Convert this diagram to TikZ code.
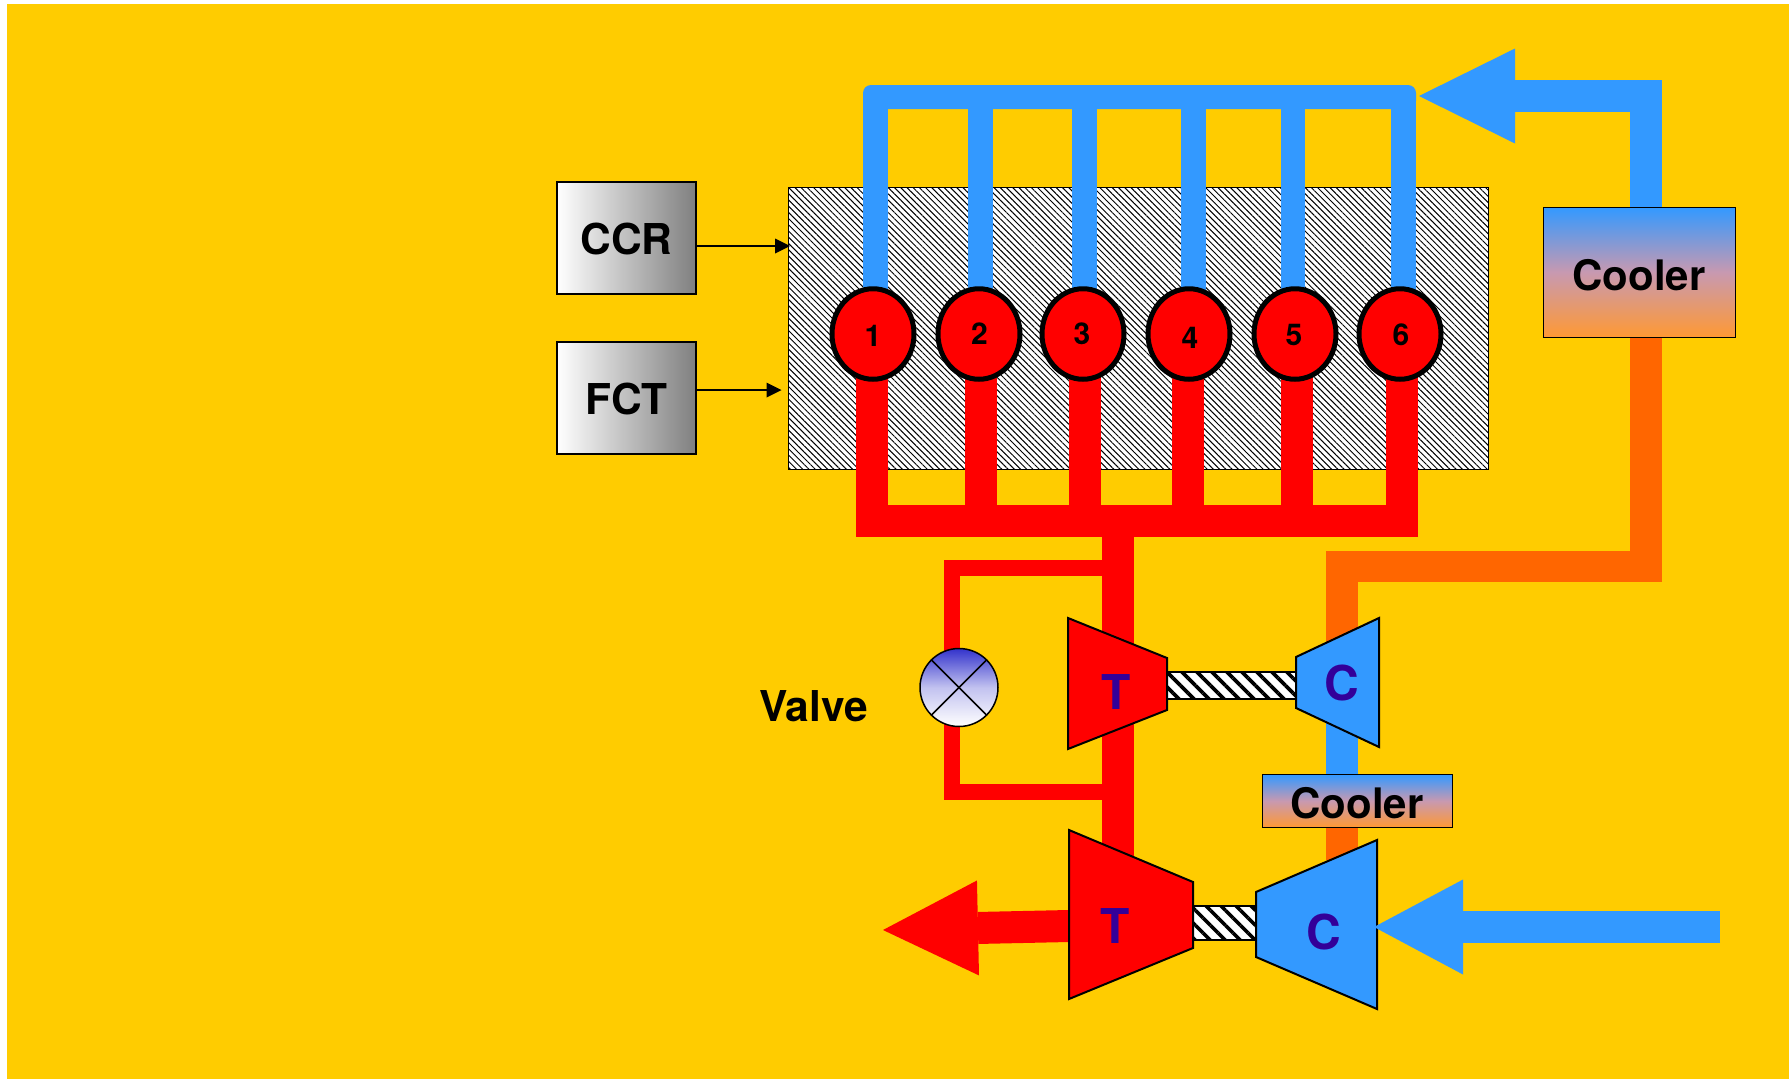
\documentclass[tikz,border=0pt]{standalone}
\usepackage{fontspec}
\setmainfont{TeX Gyre Heros}
\usetikzlibrary{arrows.meta,calc,patterns.meta,shapes.geometric}
\pgfdeclarelayer{back}
\pgfdeclarelayer{pipes}
\pgfsetlayers{back,pipes,main}
\definecolor{bgyellow}{HTML}{FFCC00}
\definecolor{pipeblue}{HTML}{3399FF}
\definecolor{pipeorange}{HTML}{FF6600}
\definecolor{coolorange}{HTML}{FF9933}
\definecolor{coolmid}{HTML}{C899B0}
\definecolor{valveblue}{HTML}{3333CC}
\definecolor{letterblue}{HTML}{330099}
\tikzset{
  bigtext/.style={font=\fontsize{42.5}{50}\selectfont\bfseries,text=black,inner sep=0pt},
  ctrlbox/.style={bigtext,text height=33pt,text depth=0pt,draw=black,line width=1.5pt,left color=white,right color=black!50,minimum width=139pt,minimum height=112pt},
  coolerbox/.style={bigtext,font=\fontsize{42}{50}\selectfont\bfseries,text height=35pt,text depth=0pt,draw=black,line width=1pt,top color=pipeblue,bottom color=coolorange,middle color=coolmid},
  enginebox/.style={draw=black,line width=1pt,fill=white,minimum width=700pt,minimum height=282pt,inner sep=0pt,
    postaction={pattern={Lines[angle=-45,distance=4.4pt,line width=1pt]},pattern color=black}},
  cyl/.style={ellipse,draw=black,fill=red,line width=5pt,minimum width=82pt,minimum height=90.5pt,inner sep=0pt},
  cylnum/.style={font=\fontsize{30}{36}\selectfont\bfseries,text=black,inner sep=0pt},
  machinetext/.style={font=\fontsize{48}{56}\selectfont\bfseries,text=letterblue,inner sep=0pt},
  bluepipe/.style={draw=pipeblue,line width=24.5pt},
  redpipe/.style={draw=red,line width=32pt},
  coldpipe/.style={draw=pipeblue,line width=32pt},
  hotpipe/.style={draw=pipeorange,line width=31.5pt},
  bypass/.style={draw=red,line width=16pt},
  turbine/.style={draw=black,fill=red,line width=2pt},
  compressor/.style={draw=black,fill=pipeblue,line width=2pt},
  shaft/.style={draw=black,line width=1.5pt,fill=white,
    postaction={pattern={Lines[angle=-45,distance=10.6pt,line width=3.6pt]},pattern color=black}},
  ctrlarrow/.style={draw=black,line width=2pt,-{Triangle[length=15pt,width=15pt,line width=0pt]}},
  bigarrow/.style={-{Triangle[length=#1pt,width=95pt,line width=0pt]}}
}
\begin{document}
\begin{tikzpicture}[x=1pt,y=-1pt]
\useasboundingbox (0,0) rectangle (1789,1079);
\begin{pgfonlayer}{back}
\fill[white] (0,0) rectangle (1789,1079);
\fill[bgyellow] (7,4) rectangle (1789,1079);
\node[enginebox] (block) at (1138,328) {};
\end{pgfonlayer}

\node[ctrlbox] (ccr) at (626.5,238) {CCR};
\node[ctrlbox] (fct) at (626.5,398) {FCT};
\coordinate (ccrend) at ([yshift=-8pt,xshift=2.5pt]ccr.east -| block.west);
\coordinate (fctend) at ([yshift=8pt,xshift=-6pt]fct.east -| block.west);
\draw[ctrlarrow] ([yshift=-8pt]ccr.east) -- (ccrend);
\draw[ctrlarrow] ([yshift=8pt]fct.east) -- (fctend);

\foreach \n/\cx/\tx/\ty in {1/873/873/336,2/979/979.5/334,3/1083/1082/334,4/1189/1190/338,5/1295/1294/335,6/1400/1401/335}{
  \node[cyl] (cyl\n) at (\cx,334) {};
  \node[cylnum] (num\n) at (\tx,\ty) {\n};
}
\begin{pgfonlayer}{pipes}
\fill[pipeblue,rounded corners=8pt] (863,85) rectangle (1416,109);
\draw[redpipe] (856,520.5) coordinate (redl) -- (1418,520.5) coordinate (redr);
\foreach \n/\bx/\rx in {1/875.5/872,2/980.5/981,3/1084.5/1085,4/1193.5/1188,5/1293/1297,6/1403.5/1402}{
  \coordinate (bt\n) at (\bx,100);
  \coordinate (rb\n) at (\rx,510);
  \draw[bluepipe] (bt\n) -- (bt\n |- cyl\n.center);
  \draw[redpipe] (rb\n) -- (rb\n |- cyl\n.center);
}
\end{pgfonlayer}

\node[circle,draw=black,line width=1.5pt,top color=valveblue,bottom color=white,middle color=valveblue!30!white,minimum size=78pt,inner sep=0pt] (valve) at (959,687.5) {};
\draw[black,line width=1.5pt] (valve.north west) -- (valve.south east);
\draw[black,line width=1.5pt] (valve.north east) -- (valve.south west);
\node[bigtext] (valvetext) at (813.5,706) {Valve};

\node[coolerbox,minimum width=192pt,minimum height=130pt] (coolbig) at (1639,272.5) {Cooler};
\node[coolerbox,minimum width=190pt,minimum height=53pt] (coolsmall) at (1357,801) {Cooler};

\coordinate (downtop) at (1118,530);
\coordinate (downend) at (1118,880);
\coordinate (bypa) at (1104,568);
\coordinate (bypb) at (1104,792);
\coordinate (bypx) at (952,680);
\coordinate (hotx) at (1646,566.5);
\coordinate (feedx) at (1342,650);
\coordinate (feedlow) at (1342,860);
\coordinate (feedup) at (1342,700);
\begin{pgfonlayer}{pipes}
\draw[redpipe] (downtop) -- (downend);
\draw[bypass] (bypa) -- (bypa -| bypx) -- (bypb -| bypx) -- (bypb);
\draw[hotpipe] (coolbig.south -| hotx) -- (hotx) -- (hotx -| feedx) -- (feedx);
\draw[coldpipe] (feedup) -- (coolsmall.north -| feedup);
\draw[hotpipe] (coolsmall.south -| feedlow) -- (feedlow);
\draw[coldpipe,bigarrow=96] (coolbig.north -| hotx) -- (hotx |- 0,96) -- (1419,96);
\draw[shaft] (1167,672) rectangle (1296,699);
\draw[shaft] (1193,906) rectangle (1256,940);
\draw[redpipe,bigarrow=95] (1069,926) coordinate (exhaust) -- (883,930);
\end{pgfonlayer}

\draw[turbine] (1068,618) -- (1167,658) -- (1167,710) -- (1068,749) -- cycle;
\draw[compressor] (1296,657) -- (1379,618) -- (1379,747) -- (1296,708) -- cycle;
\draw[turbine] (1069,830) -- (1193,882) -- (1193,948) -- (1069,999) -- cycle;
\draw[compressor] (1256,892) -- (1377,840) -- (1377,1009) -- (1256,957) -- cycle;
\draw[coldpipe,bigarrow=89] (1720,927) coordinate (intake) -- (1374,927);
\node[machinetext] (t1) at (1116,691.5) {T};
\node[machinetext] (c1) at (1342,683) {C};
\node[machinetext] (t2) at (1115,925.5) {T};
\node[machinetext] (c2) at (1324,931.5) {C};
\end{tikzpicture}
\end{document}
